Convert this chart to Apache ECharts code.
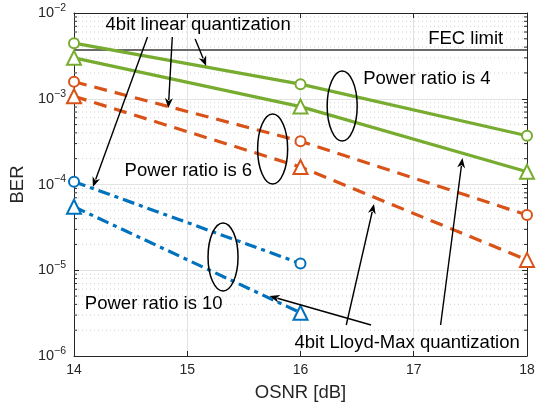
<!DOCTYPE html>
<html>
<head>
<meta charset="utf-8">
<script src="https://cdn.jsdelivr.net/npm/echarts@6/dist/echarts.min.js"></script>
<style>html,body{margin:0;padding:0;background:#fff}#c{width:543px;height:407px}</style>
</head>
<body>
<div id="c"></div>
<script>
// ---- data ----
const osnr = [14, 16, 18];
const osnrShort = [14, 16];
const linearR4 = [4.45e-3, 1.48e-3, 3.7e-4];
const lloydR4 = [3.0e-3, 8.1e-4, 1.41e-4];
const linearR6 = [1.58e-3, 3.2e-4, 4.4e-5];
const lloydR6 = [1.07e-3, 1.6e-4, 1.32e-5];
const linearR10 = [1.08e-4, 1.2e-5];
const lloydR10 = [5.5e-5, 3.2e-6];
const fecLimit = 3.7e-3;
const xTicks = [14, 15, 16, 17, 18];
const yDecades = [1e-6, 1e-5, 1e-4, 1e-3, 1e-2];

const FONT = "'Liberation Sans', Arial, sans-serif";
const GREEN = '#77AC30', ORANGE = '#D95319', BLUE = '#0072BD';
const AX = '#262626';

function pairs(xs, ys) { return xs.map((x, i) => [x, ys[i]]); }

const minorVals = [];
yDecades.slice(0, -1).forEach(d => { for (let k = 2; k <= 9; k++) minorVals.push([14, d * k]); });

function yLabel(v) {
  const e = Math.round(Math.log10(v));
  return '{b|10}{s|' + (e < 0 ? '\u2212' : '') + Math.abs(e) + '}';
}

function lineSeries(name, xs, ys, color, type, symbol, size) {
  return {
    name, type: 'line', data: pairs(xs, ys), z: 5,
    lineStyle: { color, width: 3.2, type },
    symbol, symbolSize: size,
    itemStyle: { color, borderColor: color, borderWidth: 3 },
    emphasis: { disabled: true }, animation: false
  };
}

const chart = echarts.init(document.getElementById('c'), null, { renderer: 'canvas' });
const option = {
  animation: false,
  backgroundColor: '#fff',
  textStyle: { fontFamily: FONT },
  grid: { left: 71, right: 16, top: 13, bottom: 51 },
  xAxis: [{
    type: 'value', min: 14, max: 18, interval: 1,
    name: 'OSNR [dB]', nameLocation: 'middle', nameGap: 27,
    nameTextStyle: { fontSize: 18.5, color: AX, fontFamily: FONT },
    axisLine: { lineStyle: { color: AX, width: 1 } },
    axisTick: { inside: true, length: 5, lineStyle: { color: AX } },
    axisLabel: { fontSize: 14, color: AX, margin: 7, fontFamily: FONT },
    splitLine: { show: true, lineStyle: { color: '#e3e3e3', width: 1 } }
  }, {
    type: 'value', min: 14, max: 18, interval: 1, position: 'top',
    axisLine: { show: true, onZero: false, lineStyle: { color: AX, width: 1 } },
    axisTick: { inside: true, length: 5, lineStyle: { color: AX } },
    axisLabel: { show: false }, splitLine: { show: false }
  }],
  yAxis: [{
    type: 'log', logBase: 10, min: 1e-6, max: 1e-2, splitNumber: 4,
    name: 'BER', nameLocation: 'middle', nameGap: 31,
    nameTextStyle: { fontSize: 18.5, color: AX, fontFamily: FONT },
    axisLine: { show: true, lineStyle: { color: AX, width: 1 } },
    axisTick: { inside: true, length: 5, lineStyle: { color: AX } },
    axisLabel: {
      formatter: yLabel, margin: 8,
      rich: {
        b: { fontSize: 14.5, color: AX, fontFamily: FONT },
        s: { fontSize: 10.5, color: AX, fontFamily: FONT, padding: [0, 0, 10, 0] }
      }
    },
    splitLine: { show: true, lineStyle: { color: '#e3e3e3', width: 1 } }
  }, {
    type: 'log', logBase: 10, min: 1e-6, max: 1e-2, splitNumber: 4, position: 'right',
    axisLine: { show: true, onZero: false, lineStyle: { color: AX, width: 1 } },
    axisTick: { inside: true, length: 5, lineStyle: { color: AX } },
    axisLabel: { show: false }, splitLine: { show: false }
  }],
  series: [
    {
      name: 'minor', type: 'custom', data: minorVals, z: 1, silent: true,
      renderItem: function (params, api) {
        const v = api.value(1);
        const p1 = api.coord([14, v]), p2 = api.coord([18, v]);
        return {
          type: 'group', children: [
            { type: 'line', shape: { x1: p1[0], y1: p1[1], x2: p2[0], y2: p2[1] },
              style: { stroke: '#cfcfcf', lineWidth: 1, lineDash: [1, 3] } },
            { type: 'line', shape: { x1: p1[0], y1: p1[1], x2: p1[0] + 3, y2: p1[1] },
              style: { stroke: AX, lineWidth: 1 } },
            { type: 'line', shape: { x1: p2[0] - 3, y1: p2[1], x2: p2[0], y2: p2[1] },
              style: { stroke: AX, lineWidth: 1 } }
          ]
        };
      }
    },
    {
      name: 'FEC limit', type: 'line', data: pairs([14, 18], [fecLimit, fecLimit]), z: 3,
      symbol: 'none', lineStyle: { color: '#6a6a6a', width: 2 }, emphasis: { disabled: true }
    },
    lineSeries('Linear, ratio 4', osnr, linearR4, GREEN, 'solid', 'emptyCircle', 10),
    lineSeries('Lloyd-Max, ratio 4', osnr, lloydR4, GREEN, 'solid', 'emptyTriangle', 14),
    lineSeries('Linear, ratio 6', osnr, linearR6, ORANGE, [13, 8], 'emptyCircle', 10),
    lineSeries('Lloyd-Max, ratio 6', osnr, lloydR6, ORANGE, [13, 8], 'emptyTriangle', 14),
    lineSeries('Linear, ratio 10', osnrShort, linearR10, BLUE, [12, 5, 4, 5], 'emptyCircle', 10),
    lineSeries('Lloyd-Max, ratio 10', osnrShort, lloydR10, BLUE, [12, 5, 4, 5], 'emptyTriangle', 14)
  ]
};
chart.setOption(option);

// ---- annotations (data coordinates) ----
const annTexts = [
  { text: '4bit linear quantization', at: [15.096, 7.24e-3], align: 'center' },
  { text: 'FEC limit', at: [17.79, 4.98e-3], align: 'right' },
  { text: 'Power ratio is 4', at: [16.553, 1.70e-3], align: 'left' },
  { text: 'Power ratio is 6', at: [14.447, 1.44e-4], align: 'left' },
  { text: 'Power ratio is 10', at: [14.096, 4.04e-6], align: 'left' },
  { text: '4bit Lloyd-Max quantization', at: [15.947, 1.42e-6], align: 'left' }
];
const annArrows = [
  [[14.649, 5.25e-3], [14.167, 9.35e-5]],
  [[14.868, 5.25e-3], [14.833, 7.8e-4]],
  [[15.070, 4.98e-3], [15.167, 2.41e-3]],
  [[16.623, 2.3e-6], [15.728, 5.0e-6]],
  [[16.404, 2.3e-6], [16.649, 5.93e-5]],
  [[17.237, 2.3e-6], [17.430, 2.04e-4]]
];
const annEllipses = [
  { at: [16.368, 8.23e-4], rx: 15, ry: 35 },
  { at: [15.754, 2.59e-4], rx: 15, ry: 35 },
  { at: [15.316, 1.43e-5], rx: 15, ry: 34 }
];

function px(p) { return chart.convertToPixel({ xAxisIndex: 0, yAxisIndex: 0 }, p); }
const graphics = [];
annTexts.forEach(t => {
  const p = px(t.at);
  graphics.push({ type: 'text', x: p[0], y: p[1], z: 20,
    style: { text: t.text, fill: '#000', font: '18.5px ' + FONT, textAlign: t.align, textVerticalAlign: 'middle' } });
});
annArrows.forEach(a => {
  const s = px(a[0]), e = px(a[1]);
  const dx = e[0] - s[0], dy = e[1] - s[1];
  const L = Math.hypot(dx, dy), ux = dx / L, uy = dy / L;
  const hl = 10, hw = 4;
  const bx = e[0] - ux * hl, by = e[1] - uy * hl;
  graphics.push({ type: 'line', z: 20, shape: { x1: s[0], y1: s[1], x2: bx + ux * 2, y2: by + uy * 2 },
    style: { stroke: '#000', lineWidth: 1.4 } });
  graphics.push({ type: 'polygon', z: 20, shape: { points: [
      [e[0], e[1]], [bx - uy * hw, by + ux * hw], [e[0] - ux * hl * 0.7, e[1] - uy * hl * 0.7], [bx + uy * hw, by - ux * hw]] },
    style: { fill: '#000' } });
});
annEllipses.forEach(el => {
  const p = px(el.at);
  graphics.push({ type: 'ellipse', z: 20, shape: { cx: p[0], cy: p[1], rx: el.rx, ry: el.ry },
    style: { fill: 'none', stroke: '#000', lineWidth: 1.5 } });
});
chart.setOption({ graphic: graphics });
</script>
</body>
</html>
